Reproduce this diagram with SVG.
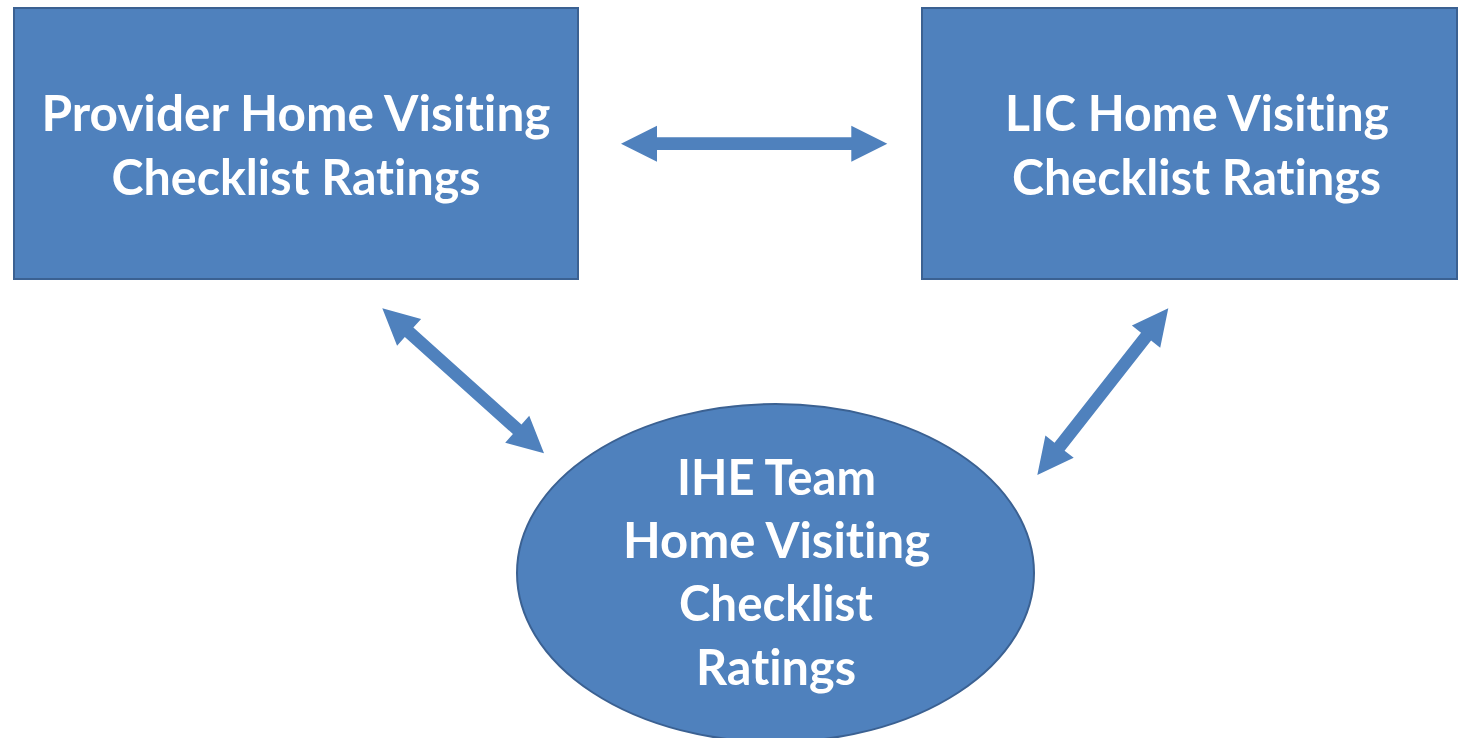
<svg xmlns="http://www.w3.org/2000/svg" width="1458" height="738" viewBox="0 0 1458 738">
<style>
.node{fill:#4f81bd;stroke:#3b6192;stroke-width:2}
.lbl{font-family:Lato,"Open Sans","Liberation Sans",sans-serif;font-weight:bold;font-size:49px;fill:#ffffff;text-anchor:middle;font-variant-ligatures:none;font-feature-settings:"liga" 0,"dlig" 0}
.arr{fill:#4f81bd}
</style>
<rect width="1458" height="738" fill="#ffffff"/>
<g id="provider">
<rect class="node" x="14" y="8" width="564" height="271"/>
<text class="lbl" x="296" y="131" textLength="509" lengthAdjust="spacingAndGlyphs">Provider Home Visiting</text>
<text class="lbl" x="296" y="195" textLength="369" lengthAdjust="spacingAndGlyphs">Checklist Ratings</text>
</g>
<g id="lic">
<rect class="node" x="922" y="8" width="535" height="271"/>
<text class="lbl" x="1197" y="131" textLength="384" lengthAdjust="spacingAndGlyphs">LIC Home Visiting</text>
<text class="lbl" x="1196.5" y="195" textLength="369" lengthAdjust="spacingAndGlyphs">Checklist Ratings</text>
</g>
<g id="ihe">
<ellipse class="node" cx="775.5" cy="573" rx="258.5" ry="169"/>
<text class="lbl" x="776.5" y="495" textLength="199" lengthAdjust="spacingAndGlyphs">IHE Team</text>
<text class="lbl" x="776.5" y="558" textLength="307" lengthAdjust="spacingAndGlyphs">Home Visiting</text>
<text class="lbl" x="776" y="621" textLength="194" lengthAdjust="spacingAndGlyphs">Checklist</text>
<text class="lbl" x="776" y="685" textLength="160" lengthAdjust="spacingAndGlyphs">Ratings</text>
</g>
<g id="connectors">
<polygon class="arr" transform="translate(621,143.7)" points="0,0 36,-18 36,-6.4 230.3,-6.4 230.3,-18 266.3,0 230.3,18 230.3,6.4 36,6.4 36,18"/>
<polygon class="arr" transform="translate(382.3,308.3) rotate(41.88)" points="0,0 36,-18 36,-6.4 181.2,-6.4 181.2,-18 217.2,0 181.2,18 181.2,6.4 36,6.4 36,18"/>
<polygon class="arr" transform="translate(1168.3,308.3) rotate(128.16)" points="0,0 36,-18 36,-6.4 176,-6.4 176,-18 212,0 176,18 176,6.4 36,6.4 36,18"/>
</g>
</svg>
